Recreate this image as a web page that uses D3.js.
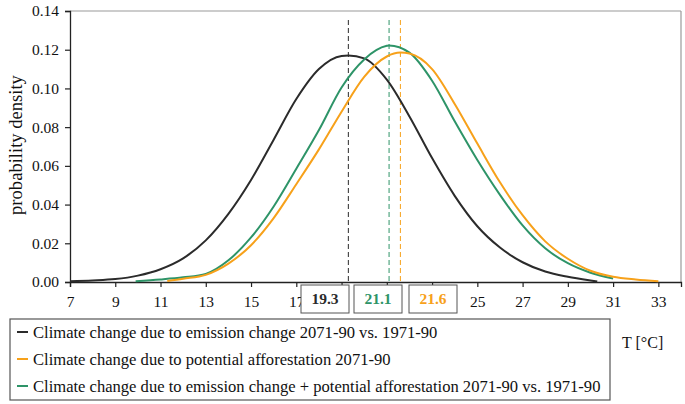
<!DOCTYPE html>
<html><head><meta charset="utf-8">
<script src="https://cdn.jsdelivr.net/npm/d3@7"></script>
<style>body{margin:0;background:#fff}svg{display:block}text{font-family:"Liberation Serif","Times New Roman",serif}</style>
</head><body><svg id="c" width="685" height="404"></svg>
<script>
// T values and densities
const blackT = [7,8,9,10,11,12,13,14,15,16,17,18,19,19.3,20,21,22,23,24,25,26,27,28,29,30,30.3];
const blackV = [0.0004,0.0008,0.0015,0.0033,0.0066,0.0122,0.0215,0.0352,0.0527,0.0735,0.0945,0.1100,0.1168,0.1170,0.1155,0.1045,0.0855,0.0640,0.0445,0.0288,0.0178,0.0102,0.0054,0.0027,0.0008,0.0003];
const greenT = [9.9,11,12,13,14,15,16,17,18,19,20,21,21.1,22,23,24,25,26,27,28,29,30,31];
const greenV = [0.0004,0.0013,0.0024,0.0042,0.0112,0.0230,0.0390,0.0585,0.0785,0.1005,0.1150,0.1220,0.1222,0.1185,0.1040,0.0830,0.0630,0.0450,0.0292,0.0174,0.0097,0.0048,0.0018];
const orangeT = [11.3,12,13,14,15,16,17,18,19,20,21,21.6,22,23,24,25,26,27,28,29,30,31,32,33];
const orangeV = [0.0005,0.0017,0.0037,0.0095,0.0190,0.0330,0.0505,0.0685,0.0880,0.1060,0.1165,0.1185,0.1180,0.1100,0.0920,0.0715,0.0515,0.0345,0.0210,0.0120,0.0058,0.0027,0.0013,0.0004];
const means = [19.3, 21.1, 21.6];
const meanLabels = ["19.3", "21.1", "21.6"];
const xTicks = [7,9,11,13,15,17,19,21,23,25,27,29,31,33];
const xTicksHidden = [19,21,23]; // covered by the mean boxes in the original
const yTicks = [0,0.02,0.04,0.06,0.08,0.10,0.12,0.14];
const legendNames = [
  "Climate change due to emission change 2071-90 vs. 1971-90",
  "Climate change due to potential afforestation 2071-90",
  "Climate change due to emission change + potential afforestation 2071-90 vs. 1971-90"
];
const colBlack = "#2b2b2b", colOrange = "#f7a11a", colGreen = "#2e9468";

const svg = d3.select("#c");
const x = d3.scaleLinear().domain([7, 34]).range([70, 681]);
const y = d3.scaleLinear().domain([0, 0.14]).range([282, 11]);

function fitFont(sel, base, target){
  sel.attr("font-size", base);
  const w = sel.node().getComputedTextLength();
  sel.attr("font-size", base*target/w);
}

// frame: top and right gray
svg.append("line").attr("x1",70).attr("x2",681).attr("y1",11).attr("y2",11).attr("stroke","#9a9a9a").attr("stroke-width",1.2);
svg.append("line").attr("x1",681).attr("x2",681).attr("y1",11).attr("y2",282).attr("stroke","#9a9a9a").attr("stroke-width",1.2);

// axes
const xAx = svg.append("g").attr("transform","translate(0,282)")
  .call(d3.axisBottom(x).tickValues(xTicks).tickFormat(d=>xTicksHidden.includes(d)?"":d3.format("d")(d)).tickSize(5).tickPadding(6));
const yAx = svg.append("g").attr("transform","translate(70,0)")
  .call(d3.axisLeft(y).tickValues(yTicks).tickFormat(d3.format(".2f")).tickSize(5).tickPadding(6));
[xAx,yAx].forEach(a=>{
  a.select(".domain").attr("stroke","#222").attr("stroke-width",1.3);
  a.selectAll(".tick line").attr("stroke","#222").attr("stroke-width",1.2);
  a.selectAll(".tick text").attr("font-size",15.5).attr("fill","#111").style("font-family","Liberation Serif, serif");
});
xAx.selectAll(".tick text").attr("dy","0.9em");

// y label
const yl = svg.append("text").attr("transform","translate(22,145) rotate(-90)").attr("text-anchor","middle")
  .attr("fill","#111").text("probability density");
fitFont(yl, 16, 140);

// dashed mean lines
const meanCols = [colBlack, colGreen, colOrange];
means.forEach((m,i)=>{
  svg.append("line").attr("x1",x(m)).attr("x2",x(m)).attr("y1",20).attr("y2",282)
    .attr("stroke",meanCols[i]).attr("stroke-width",1).attr("stroke-dasharray","5,3");
});

// curves
const line = d3.line().x(d=>x(d[0])).y(d=>y(d[1])).curve(d3.curveMonotoneX);
const series = [[blackT,blackV,colBlack],[greenT,greenV,colGreen],[orangeT,orangeV,colOrange]];
series.forEach(([T,V,c])=>{
  svg.append("path").datum(T.map((t,i)=>[t,V[i]])).attr("d",line)
    .attr("fill","none").attr("stroke",c).attr("stroke-width",2);
});

// mean label boxes
const boxX = [301, 354, 409];
meanLabels.forEach((l,i)=>{
  svg.append("rect").attr("x",boxX[i]).attr("y",285).attr("width",48).attr("height",28)
    .attr("fill","#fff").attr("stroke","#555").attr("stroke-width",1);
  svg.append("text").attr("x",boxX[i]+24).attr("y",299).attr("dy","0.35em").attr("text-anchor","middle")
    .attr("font-size",15.5).attr("font-weight","bold").attr("fill",meanCols[i]).text(l);
});

// legend
svg.append("rect").attr("x",10).attr("y",319).attr("width",600).attr("height",81)
  .attr("fill","#fff").attr("stroke","#555").attr("stroke-width",1.2);
const legCols = [colBlack, colOrange, colGreen];
let legFont = 16;
legendNames.forEach((n,i)=>{
  const cy = 332 + i*27;
  svg.append("line").attr("x1",17).attr("x2",28).attr("y1",cy).attr("y2",cy).attr("stroke",legCols[i]).attr("stroke-width",2);
  const t = svg.append("text").attr("class","leg").attr("x",33).attr("y",cy).attr("dy","0.35em").attr("fill","#111").text(n);
  if(i===2){ t.attr("font-size",16); legFont = 16*568/t.node().getComputedTextLength(); }
});
svg.selectAll("text.leg").attr("font-size",legFont);
svg.append("text").attr("x",622).attr("y",342).attr("dy","0.35em").attr("font-size",16).attr("fill","#111").text("T [°C]");
</script></body></html>
